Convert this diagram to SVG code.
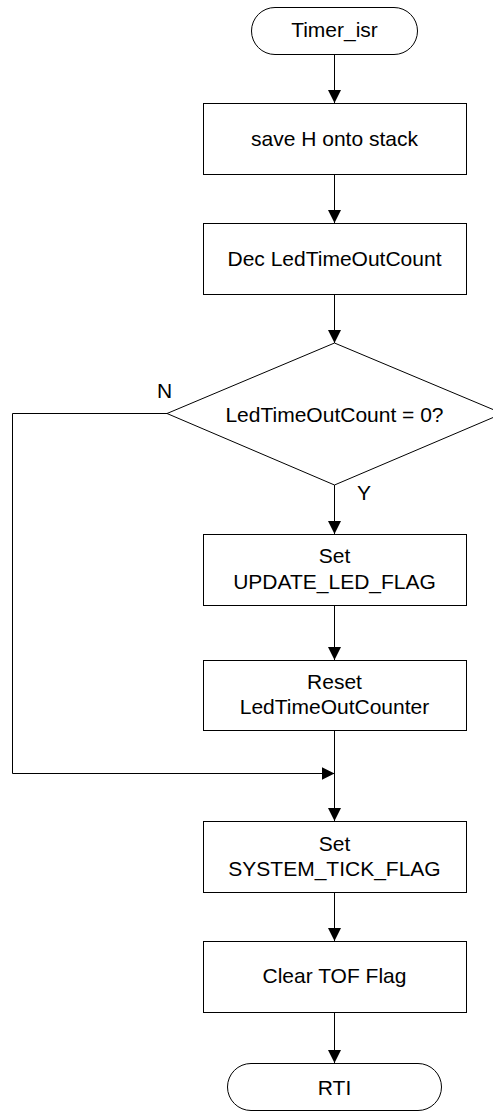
<svg xmlns="http://www.w3.org/2000/svg" width="493" height="1113" viewBox="0 0 493 1113">
  <style>
    .shape { fill: #ffffff; stroke: #000000; stroke-width: 1; }
    .wire { fill: none; stroke: #000000; stroke-width: 1; }
    .label { font-family: "Liberation Sans", Arial, sans-serif; font-size: 21px; fill: #000000; text-anchor: middle; }
    .tag { font-family: "Liberation Sans", Arial, sans-serif; font-size: 21px; fill: #000000; }
  </style>
  <defs>
    <marker id="arrow" viewBox="0 0 13 13" refX="13" refY="6.5" markerWidth="13" markerHeight="13" markerUnits="userSpaceOnUse" orient="auto">
      <path d="M0,0 L13,6.5 L0,13 Z" fill="#000000"/>
    </marker>
  </defs>
  <rect width="493" height="1113" fill="#ffffff"/>

  <!-- connectors -->
  <g id="connectors">
    <line class="wire" x1="334.5" y1="55" x2="334.5" y2="103" marker-end="url(#arrow)"/>
    <line class="wire" x1="334.5" y1="174" x2="334.5" y2="223" marker-end="url(#arrow)"/>
    <line class="wire" x1="334.5" y1="294" x2="334.5" y2="343" marker-end="url(#arrow)"/>
    <line class="wire" x1="334.5" y1="485" x2="334.5" y2="534" marker-end="url(#arrow)"/>
    <line class="wire" x1="334.5" y1="606" x2="334.5" y2="660" marker-end="url(#arrow)"/>
    <line class="wire" x1="334.5" y1="731" x2="334.5" y2="821" marker-end="url(#arrow)"/>
    <polyline class="wire" points="167,413.5 12.5,413.5 12.5,773.5 334.5,773.5" marker-end="url(#arrow)"/>
    <line class="wire" x1="334.5" y1="892" x2="334.5" y2="941" marker-end="url(#arrow)"/>
    <line class="wire" x1="334.5" y1="1012" x2="334.5" y2="1063" marker-end="url(#arrow)"/>
    <text class="tag" x="157" y="398">N</text>
    <text class="tag" x="357" y="500">Y</text>
  </g>

  <g id="start">
    <rect class="shape" x="251.5" y="7.5" width="166" height="47" rx="23.5" ry="23.5"/>
    <text class="label" x="334.5" y="37">Timer_isr</text>
  </g>

  <g id="save-h">
    <rect class="shape" x="203.5" y="103.5" width="263" height="71"/>
    <text class="label" x="334.5" y="146">save H onto stack</text>
  </g>

  <g id="dec-count">
    <rect class="shape" x="203.5" y="223.5" width="263" height="71"/>
    <text class="label" x="334.5" y="266">Dec LedTimeOutCount</text>
  </g>

  <g id="count-zero">
    <polygon class="shape" points="334.5,343 502.5,413.5 334.5,485 167,413.5"/>
    <text class="label" x="334.5" y="422">LedTimeOutCount = 0?</text>
  </g>

  <g id="set-update">
    <rect class="shape" x="203.5" y="534.5" width="263" height="71"/>
    <text class="label" x="334.5" y="563">Set</text>
    <text class="label" x="334.5" y="589">UPDATE_LED_FLAG</text>
  </g>

  <g id="reset-counter">
    <rect class="shape" x="203.5" y="660.5" width="263" height="70"/>
    <text class="label" x="334.5" y="689">Reset</text>
    <text class="label" x="334.5" y="714">LedTimeOutCounter</text>
  </g>

  <g id="set-tick">
    <rect class="shape" x="203.5" y="821.5" width="263" height="71"/>
    <text class="label" x="334.5" y="851">Set</text>
    <text class="label" x="334.5" y="876">SYSTEM_TICK_FLAG</text>
  </g>

  <g id="clear-tof">
    <rect class="shape" x="203.5" y="941.5" width="263" height="71"/>
    <text class="label" x="334.5" y="983">Clear TOF Flag</text>
  </g>

  <g id="end">
    <rect class="shape" x="227.5" y="1063.5" width="214" height="47" rx="23.5" ry="23.5"/>
    <text class="label" x="334.5" y="1095">RTI</text>
  </g>
</svg>
